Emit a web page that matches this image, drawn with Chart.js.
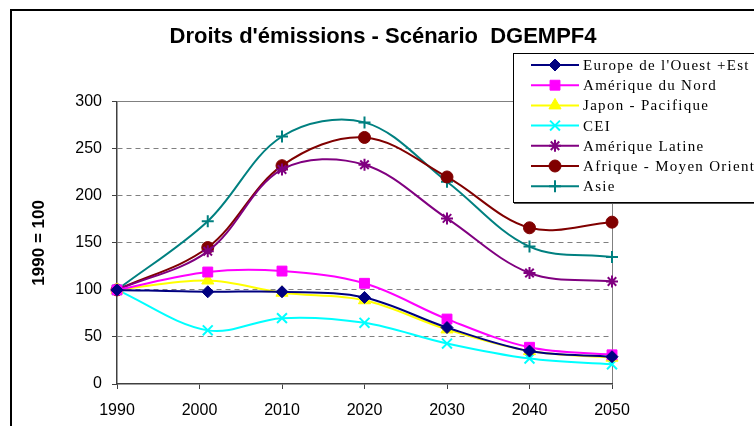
<!DOCTYPE html>
<html>
<head>
<meta charset="utf-8">
<script src="https://cdn.jsdelivr.net/npm/chart.js@4/dist/chart.umd.min.js"></script>
<style>
html,body{margin:0;padding:0;background:#fff;}
#wrap{width:754px;height:426px;position:relative;}
</style>
</head>
<body>
<div id="wrap"><canvas id="c" width="754" height="426"></canvas></div>
<script>
// ---- data ----
const years = [1990, 2001, 2010, 2020, 2030, 2040, 2050];
const xTickValues = [1990, 2000, 2010, 2020, 2030, 2040, 2050];
const yTickValues = [0, 50, 100, 150, 200, 250, 300];

const europe  = [100,  98,  98,  92, 60, 35, 29];
const nord    = [100, 119, 120, 107, 69, 39, 31];
const japon   = [100, 110,  97,  89, 58, 35, 28];
const cei     = [100,  57,  70,  65, 43, 27, 21];
const latine  = [100, 141, 228, 233, 176, 118, 109];
const afrique = [100, 145, 232, 262, 220, 166, 172];
const asie    = [100, 173, 263, 278, 215, 146, 135];

const seriesNames  = ["Europe de l'Ouest +Est", "Amérique du Nord", "Japon - Pacifique", "CEI", "Amérique Latine", "Afrique - Moyen Orient", "Asie"];
const seriesValues = [europe, nord, japon, cei, latine, afrique, asie];
const seriesColors = ['#000080', '#FF00FF', '#FFFF00', '#00FFFF', '#800080', '#800000', '#008080'];
const seriesMarkers = ['rectRot', 'rect', 'triangle', 'crossRot', 'star', 'circle', 'cross'];
const markerRadius = [6, 7, 7, 7, 6, 6, 6];

const titleText = "Droits d'émissions - Scénario  DGEMPF4";
const yTitleText = '1990 = 100';

// ---- plugins ----
const frame = {
  id: 'frame',
  afterDraw(chart) {
    const ctx = chart.ctx;
    ctx.save();
    ctx.strokeStyle = '#000';
    ctx.lineWidth = 2;
    ctx.strokeRect(11, 10, 800, 500);
    ctx.restore();
  }
};

const legendBox = {
  id: 'legendBox',
  afterDraw(chart) {
    const ctx = chart.ctx;
    ctx.save();
    ctx.fillStyle = '#fff';
    ctx.fillRect(513, 53, 260, 149);
    ctx.strokeStyle = '#000';
    ctx.lineWidth = 1;
    ctx.strokeRect(513.5, 53.5, 260, 149);
    ctx.strokeStyle = '#555';
    ctx.beginPath(); ctx.moveTo(514, 203.5); ctx.lineTo(760, 203.5); ctx.stroke();
    chart.data.datasets.forEach((ds, i) => {
      const y = 65 + i * 20.2;
      ctx.strokeStyle = ds.borderColor;
      ctx.lineWidth = 2;
      ctx.beginPath(); ctx.moveTo(531, y); ctx.lineTo(579, y); ctx.stroke();
      ctx.fillStyle = ds.backgroundColor;
      ctx.lineWidth = ds.pointBorderWidth;
      if (Chart.helpers && Chart.helpers.drawPoint) {
        Chart.helpers.drawPoint(ctx, {pointStyle: ds.pointStyle, radius: ds.pointRadius, borderWidth: ds.pointBorderWidth, rotation: 0}, 555, y);
      }
      ctx.fillStyle = '#000';
      ctx.font = '15px "Liberation Serif", "Times New Roman", serif';
      try { ctx.letterSpacing = '1.3px'; } catch (e) {}
      ctx.textBaseline = 'middle';
      ctx.textAlign = 'left';
      ctx.fillText(ds.label, 583, y + 1);
    });
    ctx.restore();
  }
};

const sans = '"Liberation Sans", Arial, sans-serif';

new Chart(document.getElementById('c'), {
  type: 'line',
  data: {
    datasets: seriesNames.map((name, i) => ({
      label: name,
      data: years.map((x, j) => ({x: x, y: seriesValues[i][j]})),
      borderColor: seriesColors[i],
      backgroundColor: seriesColors[i],
      pointBorderColor: seriesColors[i],
      pointBackgroundColor: seriesColors[i],
      pointStyle: seriesMarkers[i],
      pointRadius: markerRadius[i],
      pointBorderWidth: (seriesMarkers[i] === 'crossRot' || seriesMarkers[i] === 'cross' || seriesMarkers[i] === 'star') ? 2 : 1,
      borderWidth: 2,
      tension: 0.35,
      fill: false,
      clip: false
    }))
  },
  options: {
    responsive: false,
    animation: false,
    devicePixelRatio: 1,
    layout: {padding: {left: 12, right: 0, top: 0, bottom: 0}},
    plugins: {
      legend: {display: false},
      tooltip: {enabled: false},
      title: {
        display: true,
        text: titleText,
        color: '#000',
        font: {family: sans, size: 22, weight: 'bold'},
        padding: {top: 24, bottom: 51.3}
      }
    },
    scales: {
      x: {
        type: 'linear',
        position: 'bottom',
        min: 1990, max: 2050,
        afterBuildTicks: s => { s.ticks = xTickValues.map(v => ({value: v})); },
        ticks: {font: {family: sans, size: 16}, color: '#000', padding: 12, maxRotation: 0, autoSkip: false, callback: v => String(v)},
        grid: {
          drawOnChartArea: true,
          color: c => (c.tick && c.tick.value === 2050) ? '#808080' : 'rgba(0,0,0,0)',
          tickColor: '#404040',
          tickLength: 5,
          lineWidth: 1
        },
        border: {color: '#404040', width: 1.5},
        afterFit: s => { s.height = 42; }
      },
      y: {
        type: 'linear',
        position: 'left',
        min: 0, max: 300,
        afterBuildTicks: s => { s.ticks = yTickValues.map(v => ({value: v})); },
        ticks: {font: {family: sans, size: 16}, color: '#000', padding: 10, callback: v => String(v)},
        grid: {
          color: c => (c.tick && c.tick.value === 0) ? 'rgba(0,0,0,0)' : '#808080',
          tickColor: '#404040',
          tickLength: 5,
          lineWidth: 1
        },
        border: {color: '#404040', width: 1.5, dash: c => (c.tick && c.tick.value === 300) ? [] : [5, 4]},
        title: {display: true, text: yTitleText, color: '#000', font: {family: sans, size: 17, weight: 'bold'}, padding: {top: 17, bottom: 0}},
        afterFit: s => { s.width = 105; }
      },
      yRight: {
        type: 'linear',
        position: 'right',
        min: 0, max: 1,
        display: true,
        ticks: {display: false},
        grid: {display: false},
        border: {display: false},
        afterFit: s => { s.width = 142; }
      }
    }
  },
  plugins: [legendBox, frame]
});
</script>
</body>
</html>
